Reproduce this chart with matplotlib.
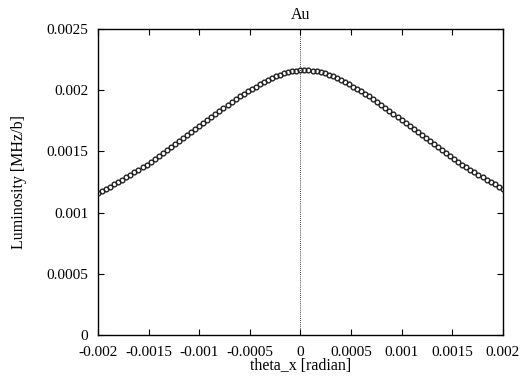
import matplotlib
matplotlib.use("Agg")
import matplotlib.pyplot as plt
import numpy as np
from matplotlib.ticker import FuncFormatter, MultipleLocator

# theta_x grid: 101 points from -0.002 to 0.002
theta_x = np.linspace(-0.002, 0.002, 101)

# luminosity (units of 1e-3 MHz/b)
lumi_e3 = [
    1.157, 1.175, 1.191, 1.210, 1.230, 1.249, 1.268, 1.288, 1.308, 1.328,
    1.349, 1.370, 1.392, 1.414, 1.437, 1.462, 1.487, 1.512, 1.537, 1.561,
    1.586, 1.611, 1.636, 1.661, 1.685, 1.710, 1.735, 1.759, 1.783, 1.807,
    1.831, 1.855, 1.879, 1.903, 1.926, 1.949, 1.972, 1.991, 2.010, 2.029,
    2.047, 2.065, 2.081, 2.097, 2.112, 2.125, 2.138, 2.146, 2.154, 2.159,
    2.162, 2.165, 2.162, 2.159, 2.154, 2.146, 2.138, 2.125, 2.112, 2.097,
    2.081, 2.065, 2.047, 2.029, 2.010, 1.991, 1.972, 1.949, 1.926, 1.903,
    1.879, 1.855, 1.831, 1.807, 1.783, 1.759, 1.735, 1.710, 1.685, 1.661,
    1.636, 1.611, 1.586, 1.561, 1.537, 1.512, 1.487, 1.462, 1.437, 1.414,
    1.392, 1.370, 1.349, 1.328, 1.308, 1.288, 1.268, 1.249, 1.230, 1.210,
    1.191,
]
luminosity = np.array(lumi_e3) * 1e-3

plt.rcParams['font.family'] = ['Liberation Serif', 'DejaVu Serif']
fs = 11.5

fig = plt.figure(figsize=(5.27, 3.78), dpi=100)
ax = fig.add_axes([0.186, 0.1138, 0.768, 0.8095])

ax.axvline(0, color='black', lw=0.6, ls=(0, (1, 1.5)), zorder=1)
ax.plot(theta_x, luminosity, ls='none', marker='o', ms=3.4,
        mfc='none', mec='#222222', mew=1.0, zorder=3)

ax.set_xlim(-0.002, 0.002)
ax.set_ylim(0, 0.0025)
ax.xaxis.set_major_locator(MultipleLocator(0.0005))
ax.yaxis.set_major_locator(MultipleLocator(0.0005))
fmt = FuncFormatter(lambda v, p: '%g' % round(v, 6))
ax.xaxis.set_major_formatter(fmt)
ax.yaxis.set_major_formatter(fmt)
ax.tick_params(direction='in', length=4, width=0.8, top=True, right=True,
               labelsize=11)
ax.tick_params(axis='x', pad=8)
ax.tick_params(axis='y', pad=7)
for s in ax.spines.values():
    s.set_linewidth(1.0)

ax.set_title('Au', fontsize=fs, pad=7)
ax.set_xlabel('theta_x [radian]', fontsize=fs, labelpad=-1)
ax.set_ylabel('Luminosity [MHz/b]', fontsize=fs, labelpad=14)

fig.savefig('out.png', dpi=100)
